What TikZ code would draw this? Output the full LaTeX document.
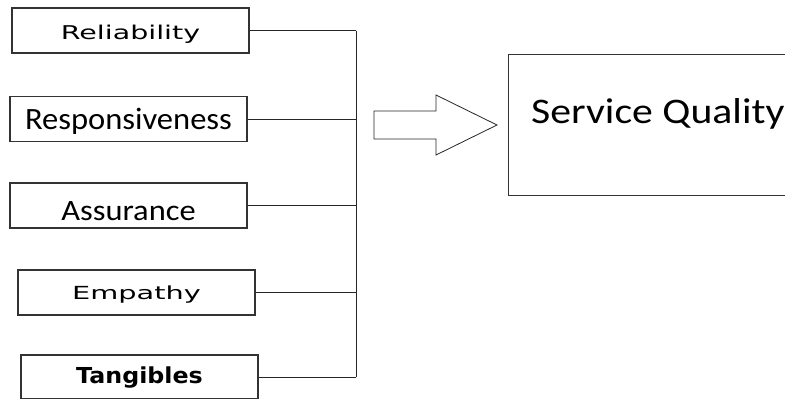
\documentclass[tikz,border=0pt]{standalone}
\usepackage{fontspec}
\setmainfont{Carlito}
\newfontfamily\dv{DejaVu Sans}
\begin{document}
\begin{tikzpicture}[x=1pt,y=-1pt,
  dim/.style={draw=black!80,line width=1.3pt,fill=white,minimum width=237pt,minimum height=45pt,inner sep=0pt,text depth=0pt},
  link/.style={draw=black!85,line width=1pt},
  sqbox/.style={draw=black!80,line width=1.3pt,anchor=north west,minimum width=320pt,minimum height=141pt,inner sep=0pt},
  blockarrow/.style={draw=black!85,line width=0.8pt,fill=white}]
\useasboundingbox (0,0) rectangle (785,399);
\clip (0,0) rectangle (785,399);
% quality dimensions (text height sets where each baseline sits in its box)
\node[dim,text height=17pt] (rel) at (130.5,30.5) {\scalebox{1.5}[1]{\dv\fontsize{19}{22}\selectfont Reliability}};
\node[dim,text height=20pt] (res) at (128.5,119) {\scalebox{1.05}[1]{\fontsize{31}{34}\selectfont Responsiveness}};
\node[dim,text height=30pt] (ass) at (128.5,205.5) {\scalebox{1.1}[1]{\fontsize{29.5}{32}\selectfont Assurance}};
\node[dim,text height=13pt] (emp) at (136.5,292.5) {\scalebox{1.6}[1]{\dv\fontsize{18}{21}\selectfont Empathy}};
\node[dim,text height=12pt,minimum height=44pt] (tan) at (139.5,377) {\scalebox{1.08}[1]{\dv\bfseries\fontsize{22}{25}\selectfont Tangibles}};
% collecting bus
\coordinate (bustop) at (356,30.5);
\coordinate (busbot) at (356,377);
\draw[link] (bustop) -- (busbot);
\foreach \n in {rel,res,ass,emp,tan}
  \draw[link] (\n.east) -- (\n.east -| bustop);
% block arrow
\draw[blockarrow] (374,111) -- (436,111) -- (436,95) -- (497,125) -- (436,155) -- (436,139) -- (374,139) -- cycle;
% outcome box
\node[sqbox] (sq) at (508,54) {};
\node[anchor=base west,inner sep=0pt] (sqtext) at (531,123) {\scalebox{1.16}[1]{\fontsize{36}{40}\selectfont Service Quality}};
\end{tikzpicture}
\end{document}
